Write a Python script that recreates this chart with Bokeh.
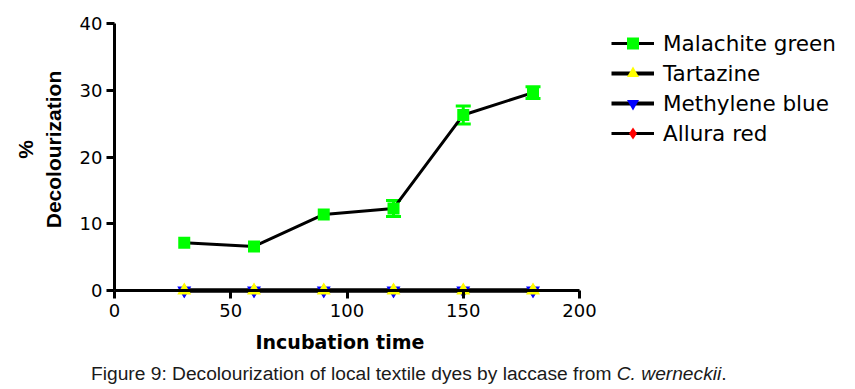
from bokeh.plotting import figure
from bokeh.layouts import column
from bokeh.models import (Range1d, FixedTicker, Legend, LegendItem, Div, Title,
                          LinearAxis, ColumnDataSource, Whisker, TeeHead)
from bokeh.embed import file_html
from bokeh.resources import INLINE

# ---------------- data ----------------
time_min = [30, 60, 90, 120, 150, 180]
malachite_green = [7.15, 6.6, 11.4, 12.3, 26.3, 29.65]
malachite_err = [0, 0, 0, 1.2, 1.35, 0.88]
tartazine = [0, 0, 0, 0, 0, 0]
methylene_blue = [0, 0, 0, 0, 0, 0]
allura_red = [0, 0, 0, 0, 0, 0]

x_ticks = [0, 50, 100, 150, 200]
y_ticks = [0, 10, 20, 30, 40]
x_limits = (0, 200)
y_limits = (0, 40)
x_title = "Incubation time"
y_title = "%\nDecolourization"
caption_main = "Figure 9: Decolourization of local textile dyes by laccase from "
caption_species = "C. werneckii"

# ---------------- figure ----------------
# the plotting frame is widened/heightened beyond the axes' bounds so that the
# legend (right) and the markers sitting on y = 0 are not clipped
FIG_H = 366
p = figure(width=855, height=FIG_H, output_backend="svg", toolbar_location=None,
           x_range=Range1d(0, 318.7), y_range=Range1d(-1.2, 43.45),
           min_border_left=114, min_border_right=0,
           min_border_top=0, min_border_bottom=68)
p.outline_line_color = None
p.xgrid.visible = False
p.ygrid.visible = False
p.background_fill_color = "white"
p.border_fill_color = "white"

xa = p.xaxis[0]
ya = p.yaxis[0]
for ax in (xa, ya):
    ax.axis_line_width = 3
    ax.axis_line_color = "black"
    ax.major_tick_line_width = 3
    ax.major_tick_line_color = "black"
    ax.minor_tick_out = 0
    ax.minor_tick_in = 0
    ax.major_label_text_font = "DejaVu Sans"
    ax.major_label_text_font_size = "18px"
    ax.major_label_text_color = "black"
    ax.axis_label_text_color = "black"

xa.ticker = FixedTicker(ticks=x_ticks)
xa.bounds = x_limits
xa.axis_line_color = None        # the visible x axis line sits at y = 0 (below)
xa.major_tick_in = 8             # ticks reach from the frame edge up to y = 0
xa.major_tick_out = 0
xa.major_label_standoff = 5

ya.ticker = FixedTicker(ticks=y_ticks)
ya.bounds = y_limits
ya.major_tick_in = 0
ya.major_tick_out = 8
ya.major_label_standoff = 4
ya.axis_label = y_title
ya.axis_label_text_font = "Liberation Sans"
ya.axis_label_text_font_style = "bold"
ya.axis_label_text_font_size = "21px"
ya.axis_label_standoff = 12

p.add_layout(Title(text=x_title, text_font="DejaVu Sans", text_font_style="bold",
                   text_font_size="19px", text_color="black", align="left",
                   offset=141, standoff=18), "below")

# x axis line at y = 0
zero_axis = LinearAxis(fixed_location=0, bounds=x_limits,
                       ticker=FixedTicker(ticks=[]),
                       axis_line_width=3, axis_line_color="black",
                       major_tick_in=0, major_tick_out=0,
                       minor_tick_in=0, minor_tick_out=0,
                       major_label_text_font_size="0px",
                       major_label_standoff=0)
p.add_layout(zero_axis, "below")

# ---------------- series ----------------
src = ColumnDataSource(dict(t=time_min, mg=malachite_green, tz=tartazine,
                            mb=methylene_blue, ar=allura_red))

ar_line = p.line("t", "ar", source=src, line_color="black", line_width=3)
mb_line = p.line("t", "mb", source=src, line_color="black", line_width=4)
tz_line = p.line("t", "tz", source=src, line_color="black", line_width=4)
mg_line = p.line("t", "mg", source=src, line_color="black", line_width=3)

ar_pts = p.scatter("t", "ar", source=src, marker="diamond", size=14,
                   fill_color="#ff0000", line_color=None)
mb_pts = p.scatter("t", "mb", source=src, marker="inverted_triangle", size=14,
                   fill_color="#0000ff", line_color=None)
tz_pts = p.scatter("t", "tz", source=src, marker="triangle", size=14,
                   fill_color="#ffff00", line_color=None)

# error bars (only where they reach beyond the marker)
et = [t for t, e in zip(time_min, malachite_err) if e > 0]
ev = [v for v, e in zip(malachite_green, malachite_err) if e > 0]
ee = [e for e in malachite_err if e > 0]
err_src = ColumnDataSource(dict(t=et, lo=[v - e for v, e in zip(ev, ee)],
                                hi=[v + e for v, e in zip(ev, ee)]))
wh = Whisker(source=err_src, base="t", lower="lo", upper="hi",
             line_color="#00ff00", line_width=3,
             upper_head=TeeHead(size=15, line_color="#00ff00", line_width=3),
             lower_head=TeeHead(size=15, line_color="#00ff00", line_width=3))
p.add_layout(wh)

mg_pts = p.scatter("t", "mg", source=src, marker="square", size=12,
                   fill_color="#00ff00", line_color=None)

# ---------------- legend ----------------
legend = Legend(items=[
    LegendItem(label="Malachite green", renderers=[mg_line, mg_pts]),
    LegendItem(label="Tartazine", renderers=[tz_line, tz_pts]),
    LegendItem(label="Methylene blue", renderers=[mb_line, mb_pts]),
    LegendItem(label="Allura red", renderers=[ar_line, ar_pts]),
], location=(497, 150))
legend.border_line_color = None
legend.background_fill_alpha = 0
legend.padding = 0
legend.margin = 0
legend.spacing = 0
legend.glyph_width = 43
legend.glyph_height = 30
legend.label_height = 30
legend.label_standoff = 9
legend.label_text_font = "DejaVu Sans"
legend.label_text_font_size = "21.5px"
legend.label_text_color = "black"
p.add_layout(legend, "center")

# ---------------- caption ----------------
caption = Div(
    text=('<div style="margin-left:91px; font-family:\'Liberation Sans\', Arial, sans-serif; '
          'font-size:19.2px; line-height:16px; color:#1a1a1a; white-space:nowrap;">'
          + caption_main + '<i>' + caption_species + '</i>.</div>'),
    width=855, height=389 - FIG_H, margin=0)

layout = column(p, caption, spacing=0)
open("out.html", "w").write(file_html(layout, INLINE))
